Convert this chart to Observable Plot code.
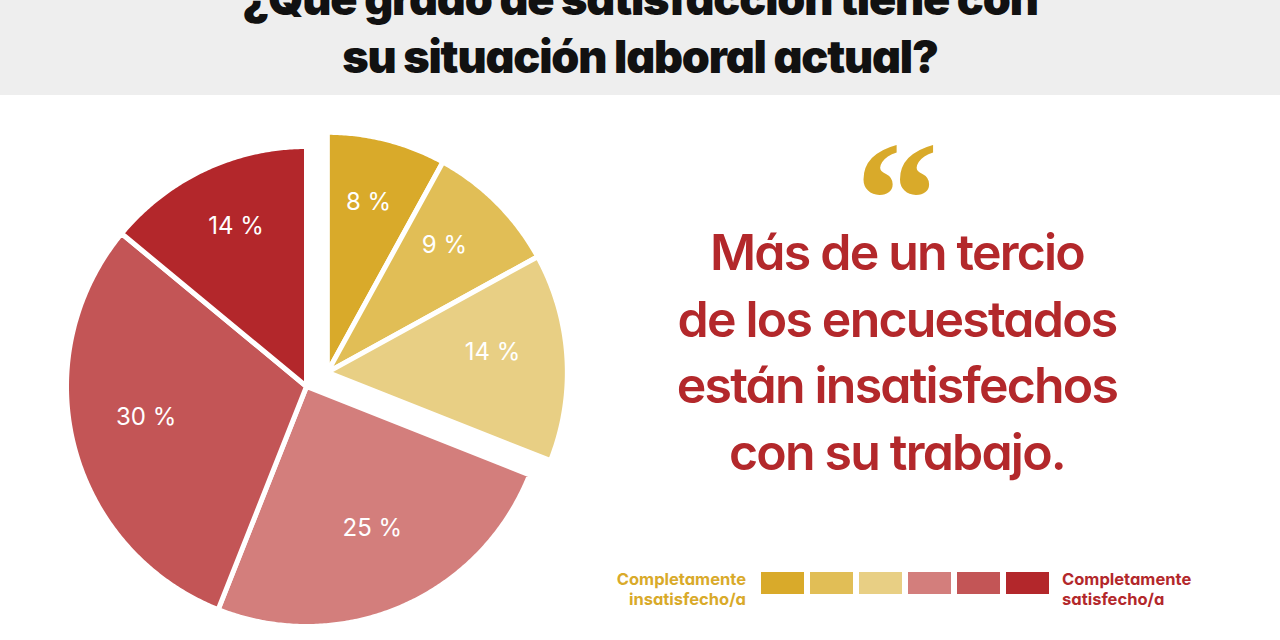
<!DOCTYPE html>
<html>
<head>
<meta charset="utf-8">
<script src="https://cdn.jsdelivr.net/npm/d3@7"></script>
<script src="https://cdn.jsdelivr.net/npm/@observablehq/plot@0.6"></script>
<style>
  html, body { margin: 0; padding: 0; }
  body { width: 1280px; height: 640px; overflow: hidden; background: #ffffff; position: relative; font-family: Inter, Lato, sans-serif; font-feature-settings: "cv11" 1; }
  #header { position: absolute; left: 0; top: 0; width: 1280px; height: 95px; background: #eeeeee; overflow: hidden; }
  .tl { position: absolute; left: 0; width: 1280px; text-align: center; font-family: Inter, sans-serif; font-weight: 900; font-size: 45px; line-height: 45px; letter-spacing: -1.2px; color: #111111; white-space: nowrap; font-feature-settings: "cv11" 1; }
  #pie { position: absolute; left: 0; top: 95px; }
  #quote { position: absolute; left: 797px; width: 200px; top: 184px; height: 30px; text-align: center; font-family: "Liberation Serif", serif; font-weight: 700; font-size: 166px; line-height: 30px; color: #D9AA2A; }
  #msg { position: absolute; left: 597px; width: 600px; top: 219px; text-align: center; font-family: Inter, sans-serif; font-weight: 600; font-size: 50px; line-height: 66.5px; letter-spacing: -1.8px; color: #B3282B; white-space: nowrap; font-feature-settings: "cv11" 1; }
  #legend { position: absolute; left: 750px; top: 572px; }
  .ll { position: absolute; top: 569px; font-family: Inter, sans-serif; font-weight: 700; font-size: 16.5px; line-height: 20px; white-space: nowrap; font-feature-settings: "cv11" 1; }
  #llLeft { right: calc(1280px - 746px); text-align: right; color: #D9AA2A; }
  #llRight { left: 1062px; text-align: left; color: #B3282B; }
</style>
</head>
<body>
<div id="header">
  <div class="tl" style="top:-24px">¿Qué grado de satisfacción tiene con</div>
  <div class="tl" style="top:34px">su situación laboral actual?</div>
</div>
<div id="pie"></div>
<div id="quote">“</div>
<div id="msg">Más de un tercio<br>de los encuestados<br>están insatisfechos<br>con su trabajo.</div>
<div id="legend"></div>
<div class="ll" id="llLeft">Completamente<br>insatisfecho/a</div>
<div class="ll" id="llRight">Completamente<br>satisfecho/a</div>
<script>
// ---- data ----
const categories = ["1", "2", "3", "4", "5", "6"]; // 1 = Completamente insatisfecho/a ... 6 = Completamente satisfecho/a
const values = [8, 9, 14, 25, 30, 14];
const valueLabels = ["8 %", "9 %", "14 %", "25 %", "30 %", "14 %"];
const colors = ["#D9AA2A", "#E1BE56", "#E8CF84", "#D37E7C", "#C35556", "#B3272B"];
const explodedGroup = ["1", "2", "3"]; // insatisfechos, pulled out of the pie

// ---- pie geometry from the data ----
const arcs = d3.pie().sort(null).value(d => d)(values);
const total = d3.sum(values);
const groupSum = d3.sum(values.filter((v, i) => explodedGroup.includes(categories[i])));
const groupMid = (groupSum / total) * Math.PI; // middle angle of the exploded group
const explode = 0.105;
const R = 1;
const labelR = 0.69;
const step = Math.PI / 360;

const slicePts = [];
const labelPts = [];
arcs.forEach((a, i) => {
  const key = categories[i];
  const off = explodedGroup.includes(key) ? explode : 0;
  const ox = off * Math.sin(groupMid), oy = off * Math.cos(groupMid);
  slicePts.push({key, x: ox, y: oy});
  const n = Math.max(2, Math.ceil((a.endAngle - a.startAngle) / step));
  for (let k = 0; k <= n; k++) {
    const t = a.startAngle + (a.endAngle - a.startAngle) * k / n;
    slicePts.push({key, x: ox + R * Math.sin(t), y: oy + R * Math.cos(t)});
  }
  slicePts.push({key, x: ox, y: oy});
  const m = (a.startAngle + a.endAngle) / 2;
  labelPts.push({key, label: valueLabels[i], x: ox + labelR * Math.sin(m), y: oy + labelR * Math.cos(m)});
});

const colorScale = {domain: categories, range: colors};
const pxPerUnit = 240;

const pie = Plot.plot({
  width: 600,
  height: 545,
  margin: 0,
  style: {background: "transparent", overflow: "visible"},
  x: {domain: [-306 / pxPerUnit, 294 / pxPerUnit], axis: null},
  y: {domain: [-254 / pxPerUnit, 291 / pxPerUnit], axis: null},
  color: colorScale,
  marks: [
    Plot.line(slicePts, {x: "x", y: "y", z: "key", fill: "key", stroke: "white", strokeWidth: 5, strokeLinejoin: "round", curve: "linear"}),
    Plot.text(labelPts, {x: "x", y: "y", dy: -10, text: "label", fill: "white", fontSize: 24, fontWeight: 400, fontFamily: "Inter, sans-serif"})
  ]
});
document.getElementById("pie").appendChild(pie);

const legend = Plot.plot({
  width: 310,
  height: 22,
  marginLeft: 9,
  marginRight: 9,
  marginTop: 0,
  marginBottom: 0,
  style: {background: "transparent"},
  x: {type: "band", domain: categories, paddingInner: 0.12, paddingOuter: 0, axis: null},
  color: colorScale,
  marks: [
    Plot.cell(categories, {x: d => d, fill: d => d, inset: 0})
  ]
});
document.getElementById("legend").appendChild(legend);
</script>
</body>
</html>
